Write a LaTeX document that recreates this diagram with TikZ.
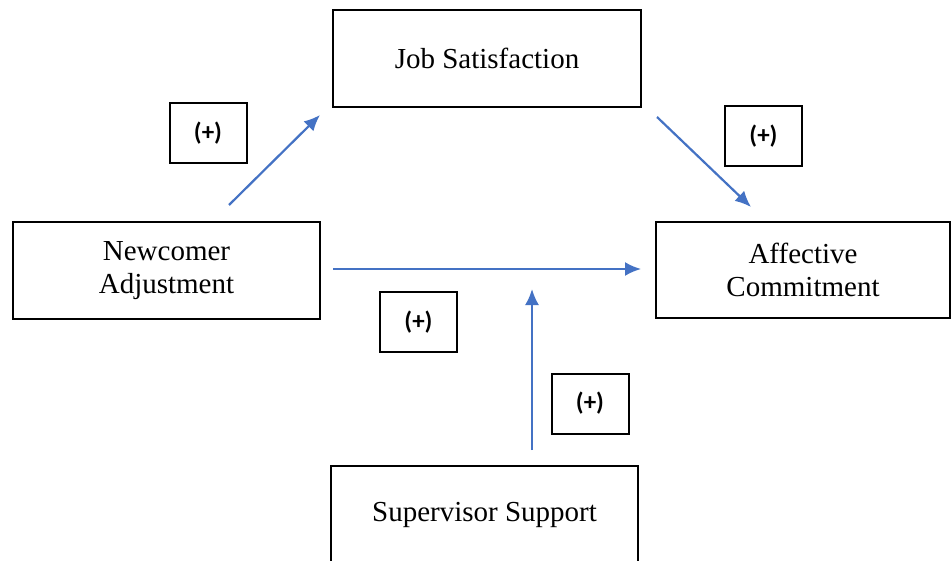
\documentclass[tikz,border=0pt]{standalone}
\usepackage{fontspec}
\setmainfont{Liberation Serif}
\newfontfamily\labfont{Carlito}
\usetikzlibrary{arrows.meta}
\definecolor{arrblue}{HTML}{4472C4}
\begin{document}
\begin{tikzpicture}[x=0.5pt,y=-0.5pt,
  varbox/.style={draw=black,line width=1pt,rectangle,align=center,inner sep=0pt,
    font=\fontsize{14.5pt}{16.5pt}\selectfont},
  signbox/.style={draw=black,line width=1pt,rectangle,inner sep=0pt,
    minimum width=38.5pt,minimum height=30pt,font=\labfont\bfseries\fontsize{12.5pt}{15pt}\selectfont},
  path/.style={draw=arrblue,line width=1.1pt,-{Latex[length=8pt,width=7pt]}}]
\useasboundingbox (0,0) rectangle (952,561);
\clip (0,0) rectangle (952,561);
\fill[white] (0,0) rectangle (952,561);
\node[varbox,minimum width=154pt,minimum height=48.5pt] (js) at (487,58.5) {Job Satisfaction};
\node[varbox,minimum width=153.5pt,minimum height=48.5pt] (na) at (166.5,270.5) {Newcomer\\Adjustment};
\node[varbox,minimum width=147pt,minimum height=48pt] (ac) at (803,270) {Affective\\Commitment};
\node[varbox,minimum width=153.5pt,minimum height=48.5pt] (ss) at (484.5,514.5) {Supervisor Support};
\node[signbox] (l1) at (208,133) {(+)};
\node[signbox] (l2) at (763.5,136) {(+)};
\node[signbox] (l3) at (418.5,322) {(+)};
\node[signbox] (l4) at (590,403.5) {(+)};
\coordinate (a1s) at (229,205);
\coordinate (a1e) at (320,115);
\coordinate (a2s) at (657,117);
\coordinate (a2e) at (751,207);
\coordinate (a3s) at (333,269);
\coordinate (a3e) at (641,269);
\coordinate (a4s) at (532,450);
\coordinate (a4e) at (532,289);
\draw[path] (a1s) -- (a1e);
\draw[path] (a2s) -- (a2e);
\draw[path] (a3s) -- (a3e);
\draw[path] (a4s) -- (a4e);
\end{tikzpicture}
\end{document}
